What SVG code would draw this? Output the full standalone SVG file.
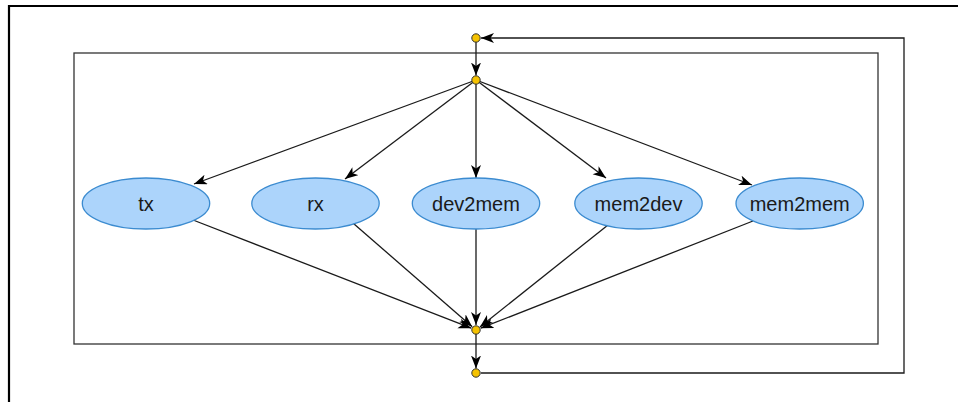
<svg xmlns="http://www.w3.org/2000/svg" width="958" height="402" viewBox="0 0 958 402">
<style>
.frame{fill:none;stroke:#000;stroke-width:2.2}
.box{fill:none;stroke:#333;stroke-width:1.3}
.node ellipse{fill:#acd4fb;stroke:#3b8bd0;stroke-width:1.3}
.node text{font-family:"Liberation Sans",Arial,sans-serif;font-size:20px;fill:#1a1a1a;text-anchor:middle;dominant-baseline:central}
.dot{fill:#f5c200;stroke:#333;stroke-width:1}
.edge{fill:none;stroke:#1a1a1a;stroke-width:1.3;marker-end:url(#arr)}
</style>
<defs>
<marker id="arr" markerUnits="userSpaceOnUse" markerWidth="14" markerHeight="11" refX="13" refY="5" orient="auto">
<path d="M0,0 L13,5 L0,10 L3.5,5 z" fill="#000"/>
</marker>
</defs>
<path class="frame" d="M9,402 V6 H958"/>
<rect class="box" x="74" y="53" width="804" height="291"/>
<g id="connectors">
<path class="edge" d="M481,373 H904 V38 H481"/>
<path class="edge" d="M476,42 V75.5"/>
<path class="edge" d="M476,334 V368.5"/>
<path class="edge" d="M476,80 L194,184"/>
<path class="edge" d="M476,80 L345,179"/>
<path class="edge" d="M476,80 L476,178"/>
<path class="edge" d="M476,80 L606,178"/>
<path class="edge" d="M476,80 L752,185"/>
<path class="edge" d="M193,220 L471.3,328.2"/>
<path class="edge" d="M346,217 L472.2,326.7"/>
<path class="edge" d="M476,229 L476,325"/>
<path class="edge" d="M608,225 L479.9,326.9"/>
<path class="edge" d="M753,221 L480.7,328.2"/>
</g>
<g id="n_top"><circle class="dot" cx="476" cy="38" r="4.2"/></g>
<g id="n_fork"><circle class="dot" cx="476" cy="80" r="4.2"/></g>
<g id="n_join"><circle class="dot" cx="476" cy="330" r="4.2"/></g>
<g id="n_end"><circle class="dot" cx="476" cy="373" r="4.2"/></g>
<g id="tx" class="node"><ellipse cx="146" cy="203.5" rx="63.7" ry="25.5"/><text x="146" y="204">tx</text></g>
<g id="rx" class="node"><ellipse cx="315.5" cy="203.5" rx="63.7" ry="25.5"/><text x="315.5" y="204">rx</text></g>
<g id="dev2mem" class="node"><ellipse cx="476" cy="203.5" rx="63.7" ry="25.5"/><text x="476" y="204">dev2mem</text></g>
<g id="mem2dev" class="node"><ellipse cx="638.5" cy="203.5" rx="63.7" ry="25.5"/><text x="638.5" y="204">mem2dev</text></g>
<g id="mem2mem" class="node"><ellipse cx="799.7" cy="203.5" rx="63.7" ry="25.5"/><text x="799.7" y="204">mem2mem</text></g>
</svg>
